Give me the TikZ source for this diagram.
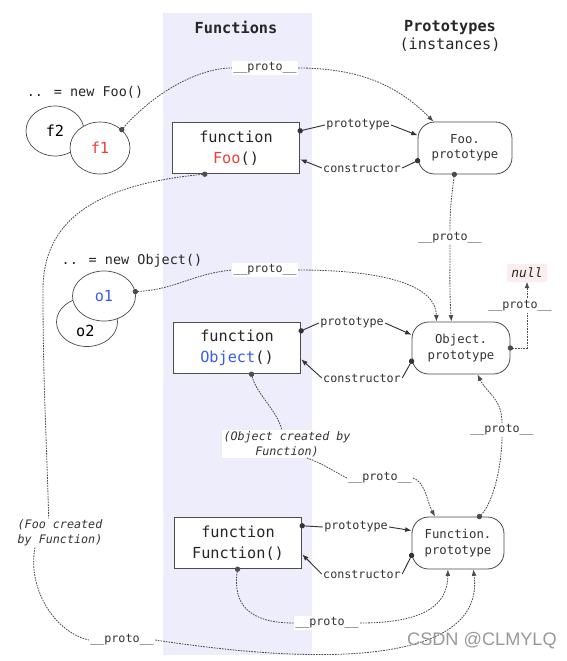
\documentclass[tikz,border=0pt]{standalone}
\usepackage{fontspec}
\setmainfont{DejaVu Sans Mono}
\newfontfamily\wmfont{Liberation Sans}
\usetikzlibrary{arrows.meta,shapes.geometric}
\definecolor{colbg}{HTML}{EDEDFB}
\definecolor{fred}{HTML}{E8403A}
\definecolor{oblue}{HTML}{3A5CE8}
\definecolor{nullbg}{HTML}{FCEEEE}
\newcommand\prt{\_\_proto\_\_}
\begin{document}
\begin{tikzpicture}[x=0.03cm,y=-0.03cm,fbox/.style={draw=black!70,line width=0.9pt,fill=white,minimum width=3.82cm,minimum height=1.54cm,align=center,text=black!85,font=\fontsize{13}{18}\selectfont},pbox/.style={draw=black!70,line width=0.7pt,fill=white,rounded corners=0.5cm,minimum height=1.56cm,align=center,text=black!80,font=\fontsize{10.5}{13}\selectfont},obj/.style={ellipse,draw=black!70,line width=0.6pt,fill=white,inner sep=0pt,font=\fontsize{13}{15}\selectfont},lbl/.style={fill=white,inner sep=1pt,text=black!80,font=\fontsize{10}{12}\selectfont},note/.style={fill=white,inner sep=1pt,align=center,text=black!80,font=\fontsize{10}{12.5}\selectfont\itshape},newlbl/.style={text=black!85,font=\fontsize{11.5}{14}\selectfont},hd/.style={text=black!85,font=\fontsize{13}{16}\selectfont},dl/.style={draw=black!70,line width=0.7pt,dash pattern=on 1.4pt off 0.9pt},sl/.style={draw=black!80,line width=0.8pt},arr/.style={-{Latex[length=5.5pt,width=4.2pt]}},src/.style={{Circle[length=4.5pt]}-,shorten <=-2.25pt},both/.style={{Circle[length=4.5pt]}-{Latex[length=5.5pt,width=4.2pt]},shorten <=-2.25pt}]
\useasboundingbox (0,0) rectangle (567,661);
\fill[colbg] (163,13) rectangle (312,655);
\node[hd,font=\fontsize{13}{16}\selectfont\bfseries] (hfun) at (236,27) {Functions};
\node[hd,align=center] (hproto) at (450,36) {\textbf{Prototypes}\\(instances)};
\node[newlbl] (newfoo) at (85,92) {.. = new Foo()};
\node[obj,minimum width=1.74cm,minimum height=1.5cm] (f2) at (55,131) {f2};
\node[obj,minimum width=1.8cm,minimum height=1.56cm,text=fred] (f1) at (100,148) {f1};
\node[fbox] (foo) at (236,148) {function\\\textcolor{fred}{Foo}()};
\node[pbox,minimum width=2.82cm] (fooproto) at (465,148) {Foo.\\prototype};
\node[newlbl] (newobj) at (132,261) {.. = new Object()};
\node[obj,minimum width=1.83cm,minimum height=1.47cm,label={[yshift=-0.26cm,xshift=-0.05cm,font=\fontsize{13}{15}\selectfont]center:o2}] (o2) at (87,322) {};
\node[obj,minimum width=1.89cm,minimum height=1.5cm,text=oblue] (o1) at (104,296) {o1};
\node[fbox] (object) at (237,348) {function\\\textcolor{oblue}{Object}()};
\node[pbox,minimum width=2.94cm] (objproto) at (461,348) {Object.\\prototype};
\node[fill=nullbg,inner xsep=4pt,inner ysep=3pt,text=black!85,font=\fontsize{11}{13}\selectfont\itshape] (null) at (527,273) {null};
\node[fbox] (func) at (238,543) {function\\Function()};
\node[pbox,minimum width=2.76cm] (funcproto) at (458,543) {Function.\\prototype};
\node[lbl] (pfoo) at (265,68) {\prt};
\node[lbl] (lpfoo) at (358,125) {prototype};
\node[lbl] (lcfoo) at (362,168) {constructor};
\node[lbl] (pfp) at (450,238) {\prt};
\node[lbl] (pobj) at (265,270) {\prt};
\node[lbl] (lpobj) at (352,323) {prototype};
\node[lbl] (lcobj) at (362,378) {constructor};
\node[lbl] (pop) at (502,430) {\prt};
\node[note] (objnote) at (287,444) {(Object created by\\Function)};
\node[lbl] (pof) at (380,478) {\prt};
\node[lbl] (lpfun) at (356,527) {prototype};
\node[lbl] (lcfun) at (362,574) {constructor};
\node[note] (fcnote) at (60,533) {(Foo created\\by Function)};
\node[lbl] (pfun) at (327,623) {\prt};
\node[lbl] (pfooc) at (122,640) {\prt};
\coordinate (fbend) at (43,290);
\draw[dl,src] (f1.40) .. controls +(30,-35) and +(-35,0) .. (pfoo.west);
\draw[dl,arr] (pfoo.east) .. controls +(70,0) and +(-30,-30) .. (fooproto.140);
\draw[sl,src] (foo.15) -- (lpfoo.west);
\draw[sl,arr] (lpfoo.east) -- (fooproto.165);
\draw[sl,src] (fooproto.195) -- (lcfoo.east);
\draw[sl,arr] (lcfoo.west) -- (foo.-10);
\draw[dl,src] (fooproto.-112) .. controls +(-3,25) and +(0,-25) .. (pfp.north);
\draw[dl,arr] (pfp.south) .. controls +(0,30) and +(-2,-30) .. (objproto.110);
\draw[dl,src] (o1.8) .. controls +(40,-2) and +(-40,4) .. (pobj.west);
\draw[dl,arr] (pobj.east) .. controls +(90,0) and +(0,-35) .. (objproto.133);
\draw[sl,src] (object.15) -- (lpobj.west);
\draw[sl,arr] (lpobj.east) -- (objproto.165);
\draw[sl,src] (objproto.195) -- (lcobj.east);
\draw[sl,arr] (lcobj.west) -- (object.-10);
\draw[dl,both] (objproto.east) -| (null.south);
\node[lbl] (pnull) at (520,306) {\prt};
\draw[dl,src] (funcproto.51) .. controls +(15,-15) and +(0,25) .. (pop.south);
\draw[dl,arr] (pop.north) .. controls +(0,-25) and +(10,20) .. (objproto.-58);
\draw[dl,src] (object.-61) .. controls +(5,20) and +(-5,-20) .. (objnote.110);
\draw[dl] (objnote.-35) .. controls +(15,5) and +(-12,-6) .. (pof.west);
\draw[dl,arr] (pof.east) .. controls +(12,4) and +(-8,-15) .. (funcproto.131);
\draw[sl,src] (func.15) -- (lpfun.west);
\draw[sl,arr] (lpfun.east) -- (funcproto.165);
\draw[sl,src] (funcproto.195) -- (lcfun.east);
\draw[sl,arr] (lcfun.west) -- (func.-10);
\draw[dl,src] (func.-91) .. controls +(-5,35) and +(-45,0) .. (pfun.west);
\draw[dl,arr] (pfun.east) .. controls +(65,0) and +(0,35) .. (funcproto.-111);
\draw[dl,src] (foo.-140) .. controls +(-130,12) and +(0,-55) .. (fbend) .. controls +(0,90) and +(-3,-100) .. (fcnote.128);
\draw[dl] (fcnote.-150) .. controls +(-8,40) and +(-35,-8) .. (pfooc.west);
\draw[dl,arr] (pfooc.east) .. controls +(230,35) and +(10,75) .. (funcproto.-60);
\node[anchor=west,text=black!40,font=\wmfont\fontsize{15.5}{18}\selectfont] (wm) at (403,641) {CSDN @CLMYLQ};
\end{tikzpicture}
\end{document}
